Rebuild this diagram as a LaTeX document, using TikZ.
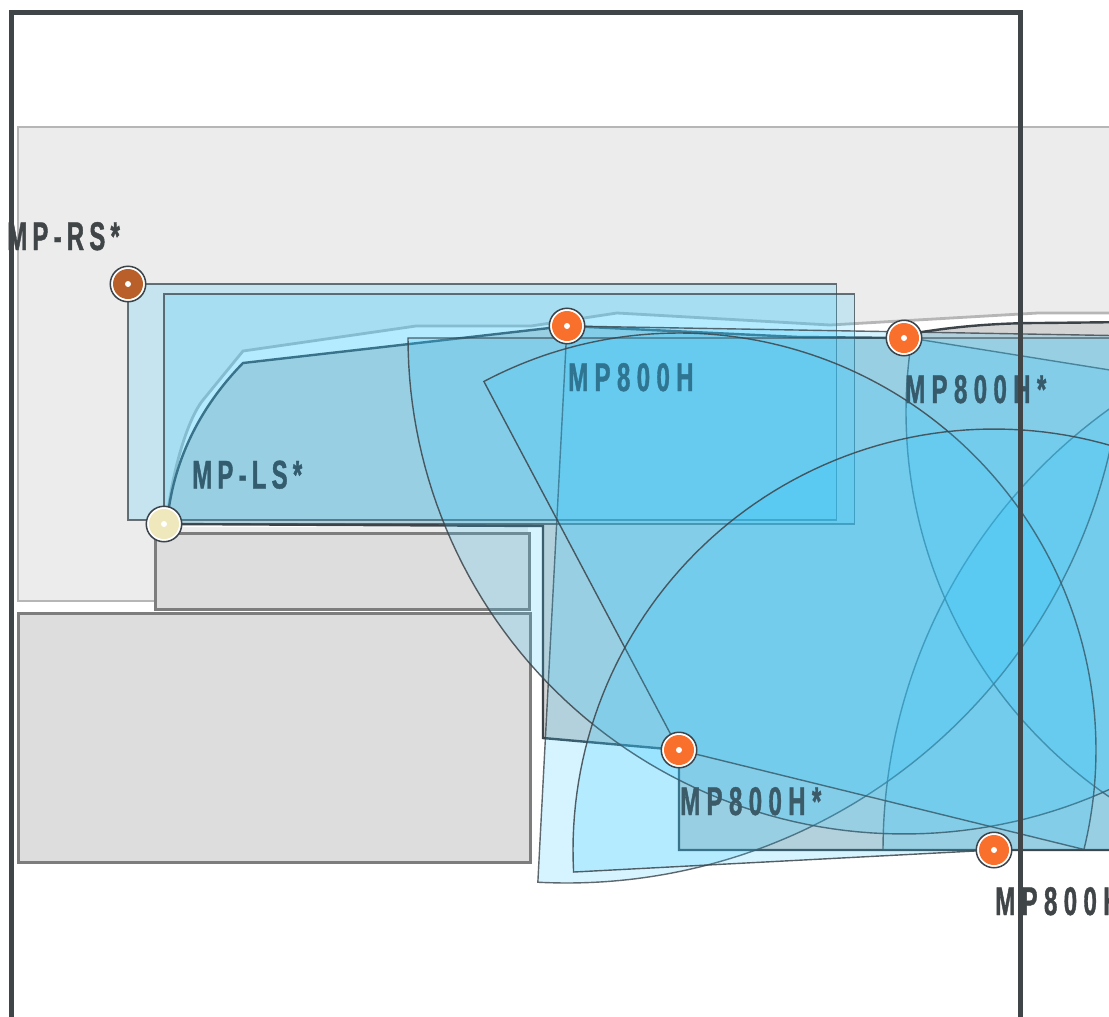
\documentclass[tikz,border=0pt]{standalone}
\usepackage{fontspec}
\newfontfamily\lblfont[FakeStretch=0.6,LetterSpace=16,FakeBold=1]{Liberation Sans Bold}
\newfontfamily\lblfonttight[FakeStretch=0.6,LetterSpace=13,FakeBold=1]{Liberation Sans Bold}
\definecolor{zonegrey}{HTML}{ECECEC}
\definecolor{zoneedge}{HTML}{B6B6B6}
\definecolor{blockfill}{HTML}{DDDDDD}
\definecolor{blockedge}{HTML}{7D7D7D}
\definecolor{tint}{RGB}{50,200,255}
\definecolor{inkc}{HTML}{3C444A}
\definecolor{framec}{HTML}{404548}
\definecolor{micorange}{HTML}{F96F2C}
\definecolor{micbrown}{HTML}{B85F2A}
\definecolor{miccream}{HTML}{EFE8BD}
\tikzset{
  zonebox/.style={fill=zonegrey,draw=zoneedge,line width=2.8},
  blockbox/.style={fill=blockfill,draw=blockedge,line width=3},
  tintbox/.style={fill=tint,fill opacity=0.2,draw=inkc,draw opacity=0.75,line width=1.5},
  fan/.style={fill=tint,fill opacity=0.2,draw=inkc,draw opacity=0.85,line width=1.4},
  farfan/.style={fan,draw opacity=0.8},
  micdot/.style={circle,fill=white,draw=inkc,line width=1.5,minimum size=35.5,inner sep=0pt},
  lbl/.style={anchor=base west,inner sep=0pt,font=\lblfont\fontsize{40}{40}\selectfont},
  lbltight/.style={anchor=base west,inner sep=0pt,font=\lblfonttight\fontsize{40}{40}\selectfont},
}
\newcommand{\fanpath}[5]{(#1,#2) -- plot[domain=#4:#5,samples=120] ({#1+#3*cos(\x)},{#2+#3*sin(\x)}) -- cycle}
\newcommand{\micmark}[4]{%
  \node[micdot] (#1) at (#2,#3) {};
  \fill[#4] (#1.center) circle (15);
  \fill[white] (#1.center) circle (3);
}
\begin{document}
\begin{tikzpicture}[x=1pt,y=-1pt]
\path[use as bounding box,clip] (0,0) rectangle (1109,1017);
\fill[white] (0,0) rectangle (1109,1017);
% grey zone
\draw[zonebox] (18,127) rectangle (1130,601);
% clear zone: fill, then only its upper edge
\fill[white] (167,520) .. controls (171,478) and (186,421) .. (203,400) -- (243,351) -- (416,326) -- (531,326) -- (617,313) -- (830,325) -- (1038,313) -- (1130,313) -- (1130,1040) -- (528,1040) -- (528,527) -- (167,527) -- cycle;
\draw[draw=zoneedge,line width=2.8] (167,520) .. controls (171,478) and (186,421) .. (203,400) -- (243,351) -- (416,326) -- (531,326) -- (617,313) -- (830,325) -- (1038,313) -- (1130,313);
% blocks
\draw[blockbox] (155.5,533.5) rectangle (529,609.5);
\draw[blockbox] (18,613) rectangle (530,862);
% shaded region
\draw[fill=black,fill opacity=0.17,draw=inkc,line width=2.4]
  (167,524) .. controls (173,455) and (205,402) .. (243,363) -- (567,326) -- (798,337) -- (904,338) -- (922,332)
  .. controls (960,326) and (1000,323) .. (1040,323) -- (1130,322) -- (1130,850) -- (679,850) -- (679,750) -- (543,738) -- (543,526) -- cycle;
% coverage rectangles
\draw[tintbox] (128,284) rectangle (836.5,520);
\draw[tintbox] (164,294) rectangle (854.5,524);
% coverage fans
\draw[farfan] \fanpath{1426}{850}{543}{180}{270};
\draw[farfan] \fanpath{1372}{412}{466}{189.1}{90};
\draw[farfan] \fanpath{567}{326}{557}{93}{1};
\draw[fan] \fanpath{904}{338}{496}{180}{0};
\draw[fan] \fanpath{679}{750}{417}{242.1}{373.8};
\draw[fan] \fanpath{994}{850}{421}{177}{360};
% labels
\node[lbltight,text=framec] (lrs) at (7,250) {MP-RS*};
\node[lbltight,text={rgb,255:red,51;green,93;blue,110}] (lls) at (192,488.5) {MP-LS*};
\node[lbl,text={rgb,255:red,47;green,116;blue,144}] (lh1) at (568,391) {MP800H};
\node[lbl,text={rgb,255:red,55;green,90;blue,106}] (lh2) at (905,403) {MP800H*};
\node[lbl,text={rgb,255:red,59;green,91;blue,105}] (lh3) at (680,815) {MP800H*};
\node[lbl,text=framec] (lh4) at (995,915) {MP800H};
% room frame
\draw[draw=framec,line width=5.3] (11.5,1040) -- (11.5,12.5) -- (1020.3,12.5) -- (1020.3,1040);
% microphones
\micmark{mrs}{128}{284}{micbrown}
\micmark{mls}{164}{524}{miccream}
\micmark{mh1}{567}{326}{micorange}
\micmark{mh2}{904}{338}{micorange}
\micmark{mh3}{679}{750}{micorange}
\micmark{mh4}{994}{850}{micorange}
\end{tikzpicture}
\end{document}
